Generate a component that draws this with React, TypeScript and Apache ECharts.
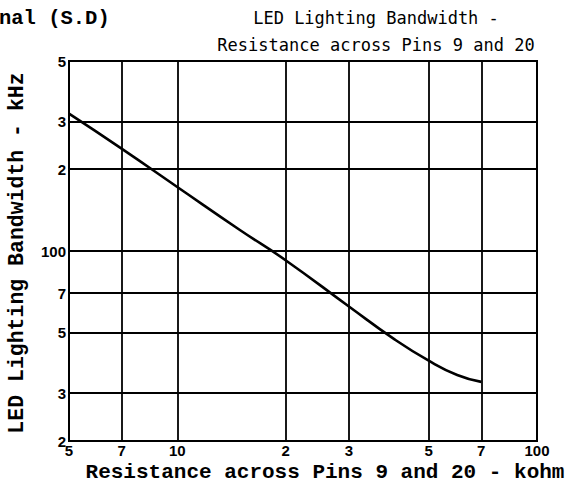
import React, { useEffect, useRef } from "react";
import * as echarts from "echarts";

const resistanceKohm = [5, 7, 10, 15, 20, 30, 40, 50, 60, 70];
const bandwidthKHz = [320, 238, 172, 119, 92.5, 62.5, 47.5, 39.5, 35, 33];

const xTickValues = [5, 7, 10, 20, 30, 50, 70, 100];
const xTickLabels = ["5", "7", "10", "2", "3", "5", "7", "100"];
const yTickValues = [20, 30, 50, 70, 100, 200, 300, 500];
const yTickLabels = ["2", "3", "5", "7", "100", "2", "3", "5"];

const titleLines = ["LED Lighting Bandwidth -", "Resistance across Pins 9 and 20"];
const xAxisName = "Resistance across Pins 9 and 20 - kohm";
const yAxisName = "LED Lighting Bandwidth - kHz";
const cornerText = "nal (S.D)";

export default function App() {
  const ref = useRef<HTMLDivElement>(null);
  useEffect(() => {
    document.body.style.margin = "0";
    const chart = echarts.init(ref.current!, undefined, { renderer: "svg" });
    const gridLineStyle = { color: "#000", width: 1.8, type: "solid" as const };
    const markData: any[] = [];
    xTickValues.forEach((v, i) => {
      markData.push({ name: xTickLabels[i], xAxis: v, label: { distance: 2 } });
    });
    yTickValues.forEach((v, i) => {
      markData.push({ name: yTickLabels[i], yAxis: v, label: { distance: 3 } });
    });
    chart.setOption({
      animation: false,
      backgroundColor: "#fff",
      grid: {
        left: 69,
        right: 31,
        top: 61,
        bottom: 50,
        show: true,
        borderColor: "#000",
        borderWidth: 2,
      },
      xAxis: {
        type: "log",
        logBase: 10,
        min: 5,
        max: 100,
        axisLabel: { show: false },
        axisTick: { show: false },
        axisLine: { show: false },
        splitLine: { show: false },
      },
      yAxis: {
        type: "log",
        logBase: 10,
        min: 20,
        max: 500,
        axisLabel: { show: false },
        axisTick: { show: false },
        axisLine: { show: false },
        splitLine: { show: false },
      },
      series: [
        {
          type: "line",
          data: resistanceKohm.map((r, i) => [r, bandwidthKHz[i]]),
          smooth: 0.5,
          showSymbol: false,
          lineStyle: { color: "#000", width: 2.6 },
          markLine: {
            silent: true,
            symbol: "none",
            lineStyle: gridLineStyle,
            emphasis: { disabled: true },
            label: {
              show: true,
              position: "start",
              formatter: "{b}",
              fontFamily: "Liberation Sans",
              fontWeight: "bold",
              fontSize: 15,
              color: "#000",
            },
            data: markData,
          },
        },
      ],
      graphic: [
        {
          type: "text",
          x: 376,
          y: 18,
          style: {
            text: titleLines[0],
            fontFamily: "DejaVu Sans Mono",
            fontSize: 17,
            fill: "#000",
            textAlign: "center",
            textVerticalAlign: "middle",
          },
        },
        {
          type: "text",
          x: 376,
          y: 45,
          style: {
            text: titleLines[1],
            fontFamily: "DejaVu Sans Mono",
            fontSize: 17,
            fill: "#000",
            textAlign: "center",
            textVerticalAlign: "middle",
          },
        },
        {
          type: "text",
          x: -1,
          y: 18,
          style: {
            text: cornerText,
            fontFamily: "Liberation Mono",
            fontWeight: "bold",
            fontSize: 20.5,
            fill: "#000",
            textAlign: "left",
            textVerticalAlign: "middle",
          },
        },
        {
          type: "text",
          x: 325,
          y: 472,
          style: {
            text: xAxisName,
            fontFamily: "Liberation Mono",
            fontWeight: "bold",
            fontSize: 21,
            fill: "#000",
            textAlign: "center",
            textVerticalAlign: "middle",
          },
        },
        {
          type: "text",
          x: 17,
          y: 253,
          rotation: Math.PI / 2,
          style: {
            text: yAxisName,
            fontFamily: "Liberation Mono",
            fontWeight: "bold",
            fontSize: 21.5,
            fill: "#000",
            textAlign: "center",
            textVerticalAlign: "middle",
          },
        },
      ],
    });
    return () => chart.dispose();
  }, []);
  return <div ref={ref} style={{ width: 568, height: 491 }} />;
}
